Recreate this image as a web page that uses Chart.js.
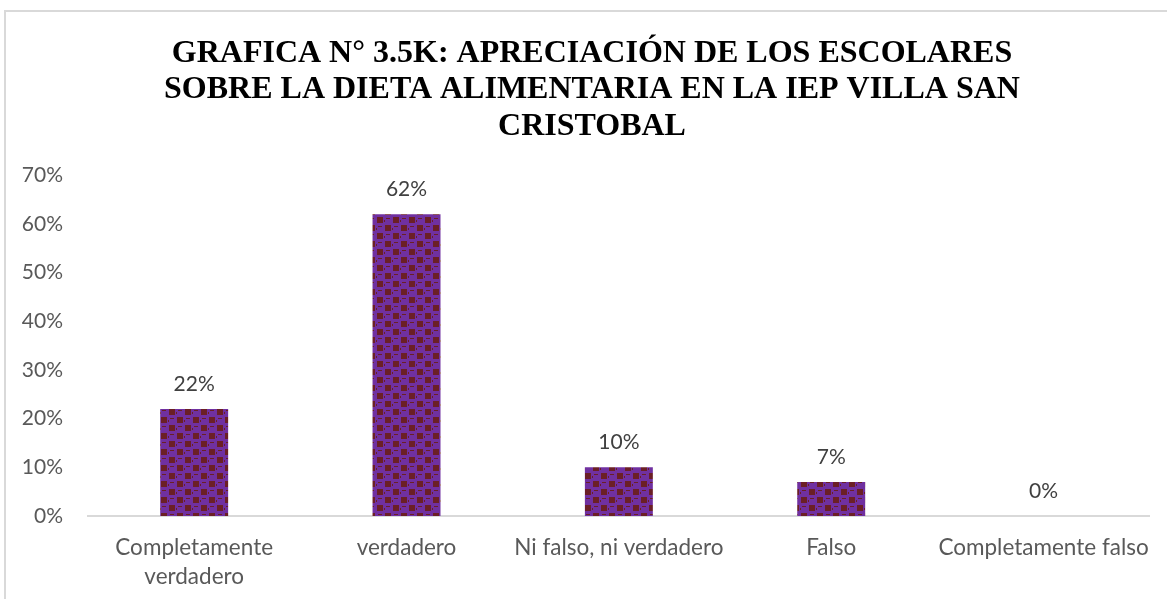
<!DOCTYPE html>
<html lang="es">
<head>
<meta charset="utf-8">
<title>Apreciación de los escolares sobre la dieta alimentaria</title>
<script src="https://cdn.jsdelivr.net/npm/chart.js@4/dist/chart.umd.min.js"></script>
<style>
  html, body { margin: 0; padding: 0; background: #ffffff; overflow: hidden; }
  #wrap { position: relative; width: 1167px; height: 599px; }
  #frame {
    position: absolute; left: 4px; top: 10px; width: 1300px; height: 800px;
    border-top: 2px solid #d9d9d9; border-left: 2px solid #d9d9d9;
    box-sizing: border-box; pointer-events: none;
  }
  canvas { position: absolute; left: 0; top: 0; }
</style>
</head>
<body>
<div id="wrap">
  <div id="frame"></div>
  <canvas id="chart" width="1167" height="599"></canvas>
</div>
<script>
// Response categories (first one wraps onto two lines)
const categories = [
  ['Completamente', 'verdadero'],
  'verdadero',
  'Ni falso, ni verdadero',
  'Falso',
  'Completamente falso'
];

// Share of pupils per answer, in percent
const percentages = [22, 62, 10, 7, 0];

// Value axis ticks
const yTicks = [0, 10, 20, 30, 40, 50, 60, 70];

const titleLines = [
  'GRAFICA N° 3.5K: APRECIACIÓN DE LOS ESCOLARES',
  'SOBRE LA DIETA ALIMENTARIA EN LA IEP VILLA SAN',
  'CRISTOBAL'
];

// Purple fill with a dark-red checker motif
function makeBarPattern() {
  const tile = document.createElement('canvas');
  tile.width = 16; tile.height = 16;
  const c = tile.getContext('2d');
  c.fillStyle = '#7030a0';
  c.fillRect(0, 0, 16, 16);
  c.fillStyle = '#6b1f26';
  c.fillRect(1, 1, 6, 6);
  c.fillRect(9, 9, 6, 6);
  c.fillRect(10, 2, 4, 1);
  c.fillRect(2, 10, 4, 1);
  c.fillRect(8, 4, 1, 2);
  c.fillRect(0, 12, 1, 2);
  return c.createPattern(tile, 'repeat');
}

const ctx = document.getElementById('chart').getContext('2d');
const barFill = makeBarPattern();

// Writes the percentage above each bar
const valueLabels = {
  id: 'valueLabels',
  afterDatasetsDraw(chart) {
    const c = chart.ctx;
    const meta = chart.getDatasetMeta(0);
    c.save();
    c.font = '21px Lato';
    c.fillStyle = '#404040';
    c.textAlign = 'center';
    c.textBaseline = 'middle';
    meta.data.forEach((bar, i) => {
      c.fillText(percentages[i] + '%', bar.x, bar.y - 25);
    });
    c.restore();
  }
};

new Chart(ctx, {
  type: 'bar',
  data: {
    labels: categories,
    datasets: [{
      data: percentages,
      backgroundColor: barFill,
      borderWidth: 0,
      categoryPercentage: 1,
      barPercentage: 0.32
    }]
  },
  options: {
    responsive: false,
    animation: false,
    events: [],
    layout: { padding: { top: 35, right: 0, bottom: 0, left: 17 } },
    plugins: {
      legend: { display: false },
      tooltip: { enabled: false },
      title: {
        display: true,
        text: titleLines,
        color: '#000000',
        font: { family: 'Liberation Serif', size: 32, weight: 'bold', lineHeight: 1.15 },
        padding: { top: 0, bottom: 30 }
      }
    },
    scales: {
      x: {
        grid: { display: false, drawTicks: false },
        border: { display: true, color: '#d9d9d9', width: 2 },
        ticks: {
          color: '#595959',
          font: { family: 'Lato', size: 22.5, lineHeight: 1.3 },
          padding: 17, maxRotation: 0, autoSkip: false
        },
        afterFit(scale) { scale.height = 83; }
      },
      y: {
        min: 0,
        max: 70,
        grid: { display: false, drawTicks: false },
        border: { display: false },
        afterBuildTicks(scale) { scale.ticks = yTicks.map(v => ({ value: v })); },
        ticks: {
          color: '#595959',
          font: { family: 'Lato', size: 21 },
          padding: 25,
          callback: v => v + '%'
        },
        afterFit(scale) { scale.width = 71; }
      },
      // empty right-hand gutter keeping the plot clear of the edge
      yRight: {
        position: 'right',
        grid: { display: false, drawTicks: false },
        border: { display: false },
        ticks: { display: false },
        afterFit(scale) { scale.width = 13; }
      }
    }
  },
  plugins: [valueLabels]
});
</script>
</body>
</html>
